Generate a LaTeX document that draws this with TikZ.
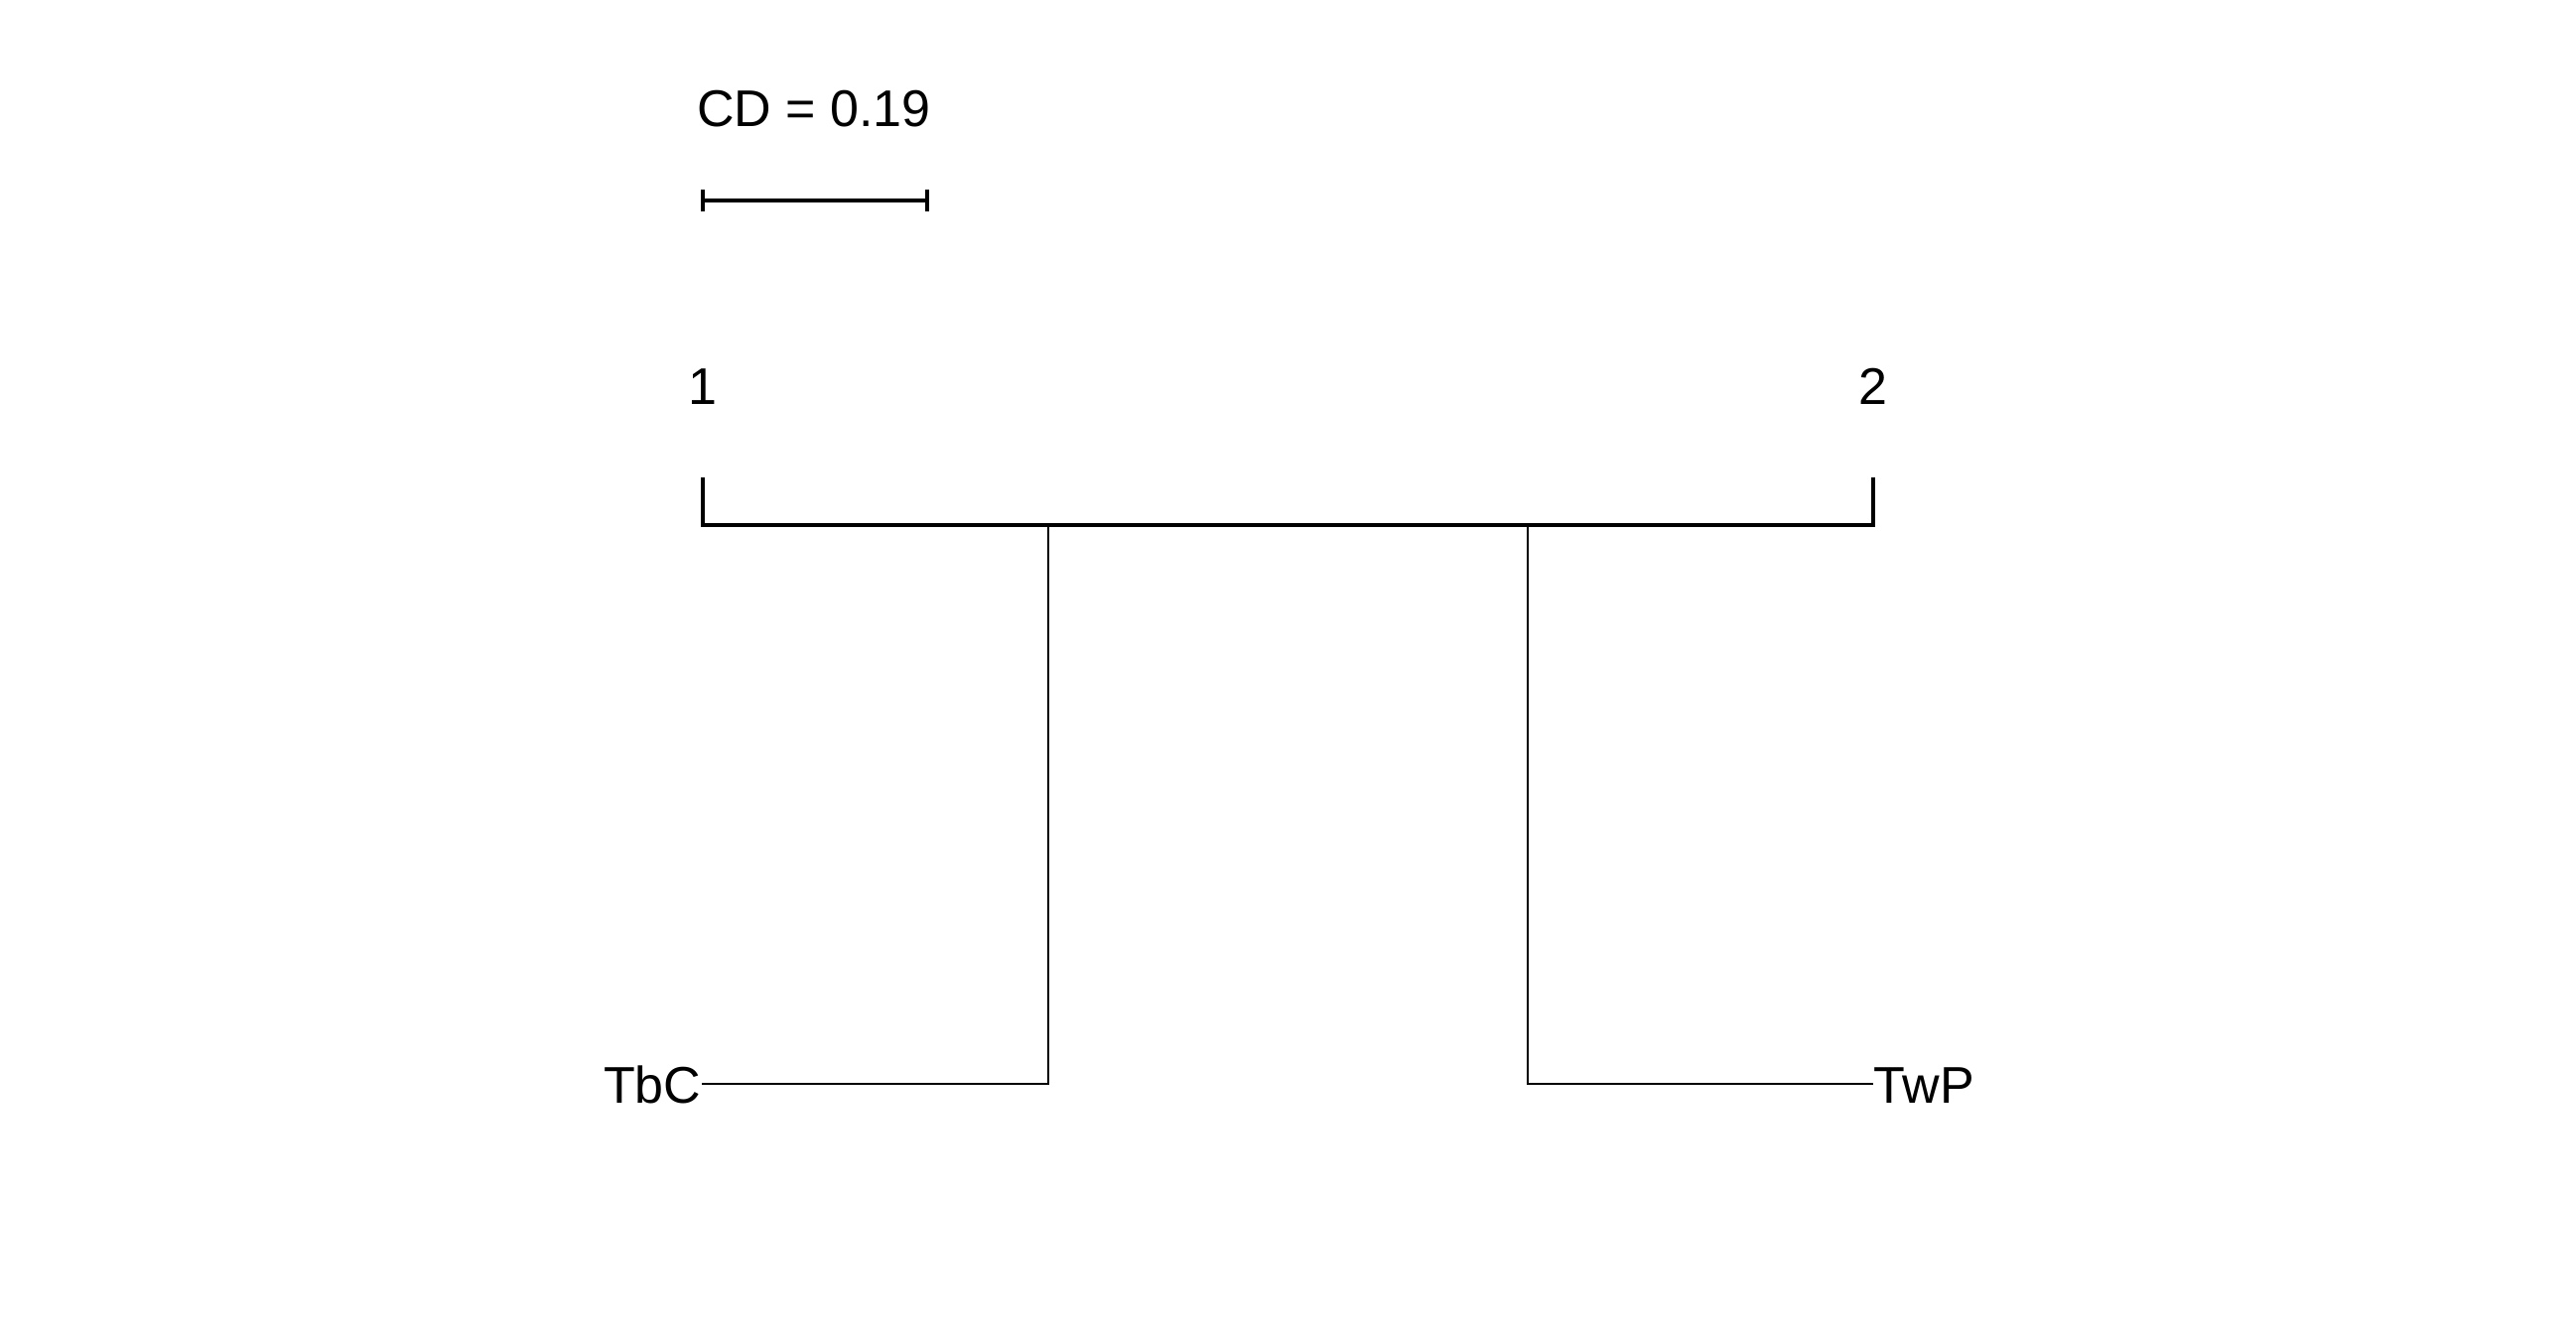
\documentclass[tikz,border=0pt]{standalone}
\usepackage{fontspec}
\setmainfont{Liberation Sans}
\begin{document}
\begin{tikzpicture}[x=0.3pt,y=-0.3pt,
  lbl/.style={inner sep=0pt,font=\fontsize{15.6}{18}\selectfont},
  axisline/.style={line width=1.2pt,line cap=rect},
  thinline/.style={line width=0.75pt}]
\useasboundingbox (0,0) rectangle (2595,1341);
% CD bar
\node[lbl,anchor=base] (cd) at (820,128) {CD = 0.19};
\coordinate (cdl) at (708,202);
\coordinate (cdr) at (934,202);
\draw[axisline,line cap=butt] (cdl) -- (cdr);
\draw[axisline,line cap=butt] ([yshift=-11*0.3pt]cdl) -- ([yshift=11*0.3pt]cdl);
\draw[axisline,line cap=butt] ([yshift=-11*0.3pt]cdr) -- ([yshift=11*0.3pt]cdr);
% axis
\node[lbl,anchor=base] (t1) at (708,407) {1};
\node[lbl,anchor=base] (t2) at (1887,407) {2};
\coordinate (a1top) at (708,483);
\coordinate (a1) at (708,529);
\coordinate (a2top) at (1887,483);
\coordinate (a2) at (1887,529);
\draw[axisline,line join=miter] (a1top) -- (a1) -- (a2) -- (a2top);
% treatments
\coordinate (r1) at (1056,529);
\coordinate (r2) at (1539,529);
\node[lbl,anchor=base east] (tbc) at (707,1111) {TbC};
\node[lbl,anchor=base west] (twp) at (1887,1111) {TwP};
\coordinate (b1) at (1056,1092);
\coordinate (b2) at (1539,1092);
\draw[thinline] (r1) -- (b1) -- (b1 -| tbc.east);
\draw[thinline] (r2) -- (b2) -- (b2 -| twp.west);
\end{tikzpicture}
\end{document}
